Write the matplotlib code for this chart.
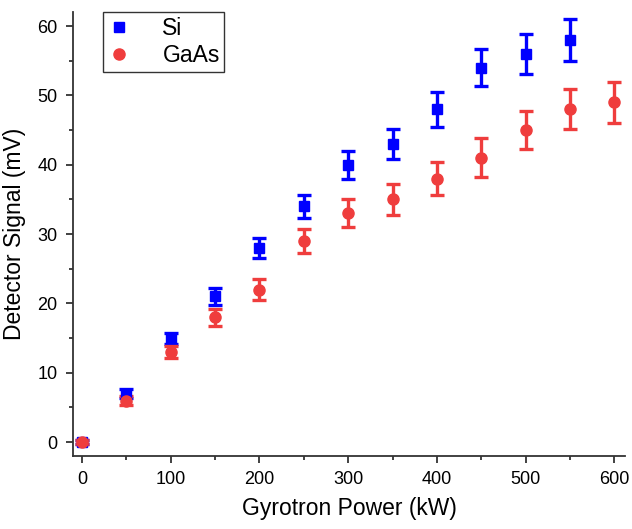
import matplotlib
matplotlib.use('Agg')
import matplotlib.pyplot as plt

plt.rcParams['font.family'] = ['Liberation Sans', 'DejaVu Sans']

power = [0, 50, 100, 150, 200, 250, 300, 350, 400, 450, 500, 550, 600]

si_signal = [0, 7, 15, 21, 28, 34, 40, 43, 48, 54, 56, 58]
si_err = [0.3, 0.6, 0.8, 1.2, 1.5, 1.7, 2.0, 2.2, 2.5, 2.7, 2.9, 3.0]

gaas_signal = [0, 6, 13, 18, 22, 29, 33, 35, 38, 41, 45, 48, 49]
gaas_err = [0.3, 0.6, 0.8, 1.2, 1.5, 1.7, 2.0, 2.2, 2.4, 2.8, 2.8, 2.9, 3.0]

fig = plt.figure(figsize=(6.32, 5.29), dpi=100)
ax = fig.add_axes([0.1155, 0.138, 0.8735, 0.839])

si = ax.errorbar(power[:len(si_signal)], si_signal, yerr=si_err, fmt='s', color='#0000ff',
                 markersize=7, elinewidth=2.4, capsize=5, capthick=2.4, zorder=3)
gaas = ax.errorbar(power, gaas_signal, yerr=gaas_err, fmt='o', color='#ef3d3d',
                   markersize=8, elinewidth=2.4, capsize=5, capthick=2.4, zorder=3)

ax.set_xlim(-10, 612)
ax.set_ylim(-2, 62)
ax.set_xticks([0, 100, 200, 300, 400, 500, 600])
ax.set_xticks(range(50, 600, 100), minor=True)
ax.set_yticks(range(0, 61, 10))
ax.set_yticks(range(5, 60, 10), minor=True)

for side in ['top', 'right']:
    ax.spines[side].set_visible(False)
for side in ['left', 'bottom']:
    ax.spines[side].set_linewidth(1.3)
    ax.spines[side].set_color('#333333')

ax.tick_params(which='major', direction='out', length=5, width=1.3, labelsize=13,
               colors='#333333', labelcolor='black', pad=6)
ax.tick_params(which='minor', direction='out', length=3, width=1.3, colors='#333333')

ax.set_xlabel('Gyrotron Power (kW)', fontsize=16.5, labelpad=6)
ax.set_ylabel('Detector Signal (mV)', fontsize=16.5, labelpad=8)

leg = ax.legend([si[0], gaas[0]], ['Si', 'GaAs'], loc='upper left', bbox_to_anchor=(0.054, 1.0),
                fontsize=16.5, fancybox=False, edgecolor='#333333', framealpha=1,
                handlelength=1.0, handletextpad=1.4, borderpad=0.2, labelspacing=0.2,
                borderaxespad=0)
leg.get_frame().set_linewidth(1.0)

fig.savefig('out.png', dpi=100)
